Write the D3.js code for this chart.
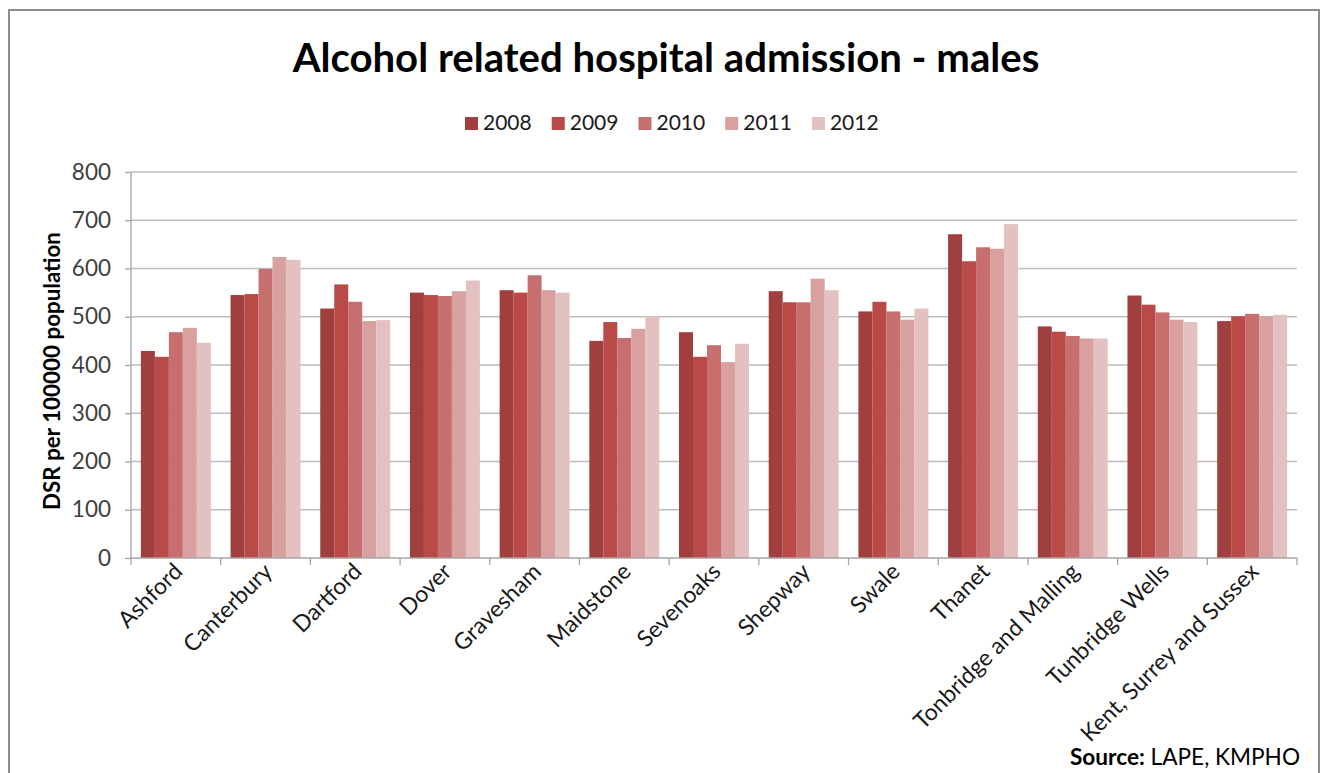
<!DOCTYPE html>
<html>
<head>
<meta charset="utf-8">
<script src="https://cdn.jsdelivr.net/npm/d3@7"></script>
<style>
  html, body { margin: 0; padding: 0; background: #fff; }
  svg { display: block; font-family: Lato, "Open Sans", sans-serif; }
</style>
</head>
<body>
<svg id="chart" width="1325" height="773"></svg>
<script>
// Districts along the x axis
const districts = ["Ashford", "Canterbury", "Dartford", "Dover", "Gravesham", "Maidstone",
  "Sevenoaks", "Shepway", "Swale", "Thanet", "Tonbridge and Malling", "Tunbridge Wells",
  "Kent, Surrey and Sussex"];

// Years shown in the legend
const years = ["2008", "2009", "2010", "2011", "2012"];

// DSR per 100000 population, one array per year (same order as districts)
const dsr2008 = [429, 545, 517, 550, 555, 450, 468, 553, 511, 671, 480, 544, 491];
const dsr2009 = [417, 547, 567, 545, 550, 489, 417, 530, 531, 615, 469, 525, 501];
const dsr2010 = [468, 599, 531, 543, 586, 456, 441, 530, 511, 644, 460, 509, 506];
const dsr2011 = [477, 624, 491, 553, 555, 475, 406, 579, 494, 641, 455, 494, 501];
const dsr2012 = [446, 618, 493, 575, 550, 501, 444, 555, 517, 692, 455, 489, 504];

const yTicks = [0, 100, 200, 300, 400, 500, 600, 700, 800];
const yearColors = ["#a03f3e", "#b94a48", "#c76f6e", "#d8a09f", "#e4c1c1"];

const seriesByYear = [dsr2008, dsr2009, dsr2010, dsr2011, dsr2012];
const rows = districts.map((d, i) => ({
  district: d,
  values: years.map((y, k) => ({ year: y, value: seriesByYear[k][i] }))
}));

const svg = d3.select("#chart");

// shrink or grow a text element's font size until it spans the given width
function fitWidth(sel, width) {
  const node = sel.node();
  const fs = parseFloat(sel.attr("font-size"));
  const w = node.getComputedTextLength();
  sel.attr("font-size", (fs * width / w).toFixed(2));
}

// outer chart frame
svg.append("rect")
  .attr("x", 9).attr("y", 10).attr("width", 1310).attr("height", 780)
  .attr("fill", "#fff").attr("stroke", "#8c8c8c").attr("stroke-width", 2);

const plot = { left: 131, right: 1297, top: 172, bottom: 558 };

const x0 = d3.scaleBand().domain(districts).range([plot.left, plot.right]).padding(0);
const bw = x0.bandwidth();
const x1 = d3.scaleBand().domain(years).range([bw * 0.11, bw * 0.89]).padding(0);
const y = d3.scaleLinear().domain([0, 800]).range([plot.bottom, plot.top]);
const color = d3.scaleOrdinal().domain(years).range(yearColors);

// gridlines
svg.append("g")
  .selectAll("line")
  .data(yTicks.filter(t => t > 0))
  .join("line")
  .attr("x1", plot.left).attr("x2", plot.right)
  .attr("y1", d => y(d)).attr("y2", d => y(d))
  .attr("stroke", "#bdbdbd").attr("stroke-width", 1.6);

// bars
svg.append("g")
  .selectAll("g")
  .data(rows)
  .join("g")
  .attr("transform", d => `translate(${x0(d.district)},0)`)
  .selectAll("rect")
  .data(d => d.values)
  .join("rect")
  .attr("x", d => x1(d.year))
  .attr("width", x1.bandwidth())
  .attr("y", d => y(d.value))
  .attr("height", d => y(0) - y(d.value))
  .attr("fill", d => color(d.year));

// y axis
const yAxis = svg.append("g")
  .attr("transform", `translate(${plot.left},0)`)
  .call(d3.axisLeft(y).tickValues(yTicks).tickSize(6).tickPadding(14).tickFormat(d3.format("d")));
yAxis.select(".domain").attr("stroke", "#a6a6a6").attr("stroke-width", 1.3).attr("d", `M0,${plot.top}V${plot.bottom}`);
yAxis.selectAll(".tick line").attr("stroke", "#a6a6a6").attr("stroke-width", 1.3);
yAxis.selectAll(".tick text").attr("font-size", 22.5).attr("fill", "#404040")
  .attr("font-family", "Lato, sans-serif");

// x axis with ticks between categories
const xAxisG = svg.append("g").attr("transform", `translate(0,${plot.bottom})`);
xAxisG.append("line")
  .attr("x1", plot.left).attr("x2", plot.right)
  .attr("stroke", "#a6a6a6").attr("stroke-width", 1.3);
const boundaries = districts.map(d => x0(d)).concat([plot.right]);
xAxisG.selectAll("line.tick")
  .data(boundaries)
  .join("line")
  .attr("class", "tick")
  .attr("x1", d => d).attr("x2", d => d)
  .attr("y1", 0).attr("y2", 7)
  .attr("stroke", "#a6a6a6").attr("stroke-width", 1.3);

xAxisG.selectAll("text")
  .data(districts)
  .join("text")
  .attr("text-anchor", "end")
  .attr("font-size", 23)
  .attr("fill", "#1a1a1a")
  .attr("transform", d => `translate(${x0(d) + bw / 2 + 8},${15}) rotate(-45)`)
  .text(d => d);

// y axis title
svg.append("text")
  .attr("transform", `translate(60,371) rotate(-90)`)
  .attr("text-anchor", "middle")
  .attr("font-size", 17)
  .attr("font-weight", "bold")
  .attr("fill", "#000")
  .text("DSR per 100000 population")
  .call(fitWidth, 278);

// chart title
svg.append("text")
  .attr("x", 666).attr("y", 72)
  .attr("text-anchor", "middle")
  .attr("font-size", 34)
  .attr("font-weight", "bold")
  .attr("fill", "#000")
  .text("Alcohol related hospital admission - males")
  .call(fitWidth, 747);

// legend
const legend = svg.append("g").attr("transform", "translate(465,130)");
let lx = 0;
years.forEach((yr, k) => {
  const g = legend.append("g").attr("transform", `translate(${lx},0)`);
  g.append("rect").attr("x", 0).attr("y", -13).attr("width", 13).attr("height", 13)
    .attr("fill", color(yr));
  const t = g.append("text").attr("x", 18).attr("y", 0)
    .attr("font-size", 21).attr("fill", "#1a1a1a").text(yr);
  lx += 18 + t.node().getComputedTextLength() + 20;
});

// source note
const src = svg.append("text")
  .attr("x", 1070).attr("y", 765)
  .attr("font-size", 22)
  .attr("fill", "#000");
src.append("tspan").attr("font-weight", "bold").text("Source:");
src.append("tspan").text(" LAPE, KMPHO");
fitWidth(src, 230);
</script>
</body>
</html>
